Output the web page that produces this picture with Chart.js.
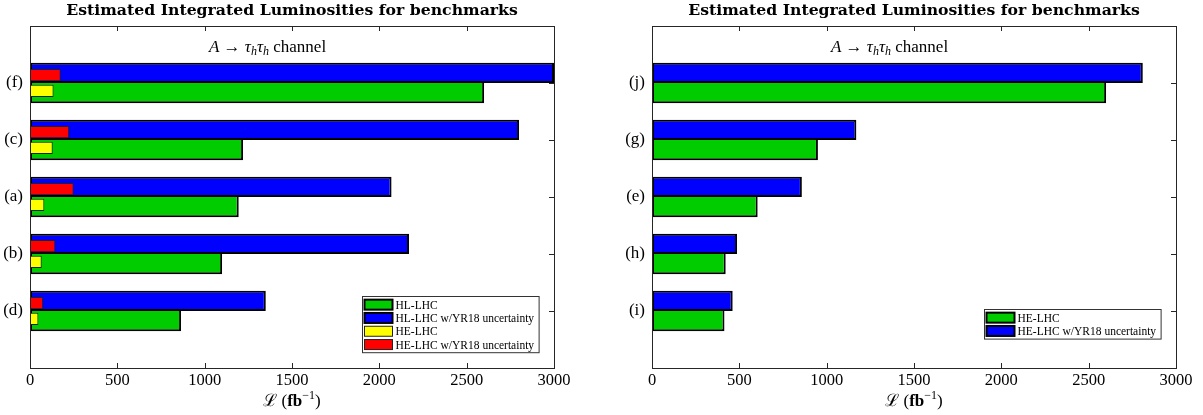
<!DOCTYPE html>
<html>
<head>
<meta charset="utf-8">
<script src="https://cdn.jsdelivr.net/npm/chart.js@4.4.1/dist/chart.umd.min.js"></script>
<style>
  html, body { margin: 0; padding: 0; background: #fff; }
  #wrap { position: relative; width: 1203px; height: 415px; }
  canvas { position: absolute; top: 0; }
  #c1 { left: 0; }
  #c2 { left: 601px; }
</style>
</head>
<body>
<div id="wrap">
  <canvas id="c1" width="601" height="415"></canvas>
  <canvas id="c2" width="602" height="415"></canvas>
</div>
<script>
  // left panel
  const leftCats = ["(f)", "(c)", "(a)", "(b)", "(d)"];
  const hlLhc = [2600, 1220, 1195, 1100, 865];
  const hlLhcYR18 = [3000, 2800, 2070, 2170, 1350];
  const heLhcL = [135, 130, 82, 67, 48];
  const heLhcYR18L = [176, 224, 250, 145, 75];
  // right panel
  const rightCats = ["(j)", "(g)", "(e)", "(h)", "(i)"];
  const heLhcR = [2600, 950, 605, 422, 415];
  const heLhcYR18R = [2810, 1170, 858, 487, 462];
  const xMax = 3000, xStep = 500;

  const GREEN = "#00cc00", BLUE = "#0000ff", YELLOW = "#ffff00", RED = "#ff0000";
  const SERIF = "'Liberation Serif', 'DejaVu Serif', serif";
  const AXIS = "#262626";

  const pts = (vals) => vals.map((v, i) => ({ x: v, y: i + 1 }));

  function drawRich(ctx, parts, cx, y) {
    let w = 0;
    parts.forEach((p) => {
      ctx.font = p.font;
      p.w = ctx.measureText(p.t).width;
      w += p.w;
    });
    let x = cx - w / 2;
    ctx.textAlign = "left";
    ctx.textBaseline = "alphabetic";
    ctx.fillStyle = "#000";
    parts.forEach((p) => {
      ctx.font = p.font;
      ctx.fillText(p.t, x, y + (p.dy || 0));
      x += p.w;
    });
  }

  const frame = {
    id: "frame",
    beforeDatasetsDraw(chart) {
      const { ctx, chartArea: a, scales } = chart;
      const tl = 5;
      ctx.save();
      ctx.strokeStyle = AXIS;
      ctx.lineWidth = 1;
      ctx.beginPath();
      scales.x.ticks.forEach((t) => {
        const px = Math.round(scales.x.getPixelForValue(t.value)) + 0.5;
        ctx.moveTo(px, a.bottom); ctx.lineTo(px, a.bottom - tl);
        ctx.moveTo(px, a.top); ctx.lineTo(px, a.top + tl);
      });
      scales.y.ticks.forEach((t) => {
        const py = Math.round(scales.y.getPixelForValue(t.value)) + 0.5;
        ctx.moveTo(a.left, py); ctx.lineTo(a.left + tl, py);
        ctx.moveTo(a.right, py); ctx.lineTo(a.right - tl, py);
      });
      ctx.stroke();
      ctx.restore();
    },
    afterDatasetsDraw(chart) {
      const { ctx, chartArea: a } = chart;
      ctx.save();
      ctx.strokeStyle = AXIS;
      ctx.lineWidth = 1;
      ctx.strokeRect(Math.round(a.left) + 0.5, Math.round(a.top) + 0.5,
        Math.round(a.right - a.left), Math.round(a.bottom - a.top));
      ctx.restore();
    },
  };

  const annot = {
    id: "annot",
    afterDraw(chart, args, o) {
      const { ctx, chartArea: a, scales } = chart;
      const cx = (a.left + a.right) / 2;
      ctx.save();
      ctx.fillStyle = "#000";
      ctx.textAlign = "center";
      ctx.textBaseline = "alphabetic";
      ctx.font = "bold 15.7px 'DejaVu Serif', serif";
      ctx.fillText("Estimated Integrated Luminosities for benchmarks", cx, 14.5);

      const it = "italic 17px " + SERIF, rm = "17px " + SERIF, sub = "italic 12px " + SERIF;
      drawRich(ctx, [
        { t: "A", font: it },
        { t: " \u2192 ", font: rm },
        { t: "\u03c4", font: it },
        { t: "h", font: sub, dy: 3 },
        { t: "\u03c4", font: it },
        { t: "h", font: sub, dy: 3 },
        { t: " channel", font: rm },
      ], scales.x.getPixelForValue(o.channelAt), 52);

      drawRich(ctx, [
        { t: "\u2112", font: "17px 'DejaVu Serif', serif" },
        { t: " (", font: rm },
        { t: "fb", font: "bold 17px " + SERIF },
        { t: "\u22121", font: "12px " + SERIF, dy: -7 },
        { t: ")", font: rm },
      ], cx, 406);

      // legend box in the lower right corner of the axes
      const items = o.items;
      ctx.font = "11.5px " + SERIF;
      const tw = Math.max(...items.map((i) => ctx.measureText(i.label).width));
      const rowH = 13.3, sw = 28, sh = 10;
      const bw = 2 + sw + 3 + tw + 5, bh = items.length * rowH + 3;
      const bx = Math.round(a.right - 15 - bw) + 0.5;
      const by = Math.round(a.bottom - o.legendBottom - bh) + 0.5;
      ctx.fillStyle = "#fff";
      ctx.fillRect(bx, by, bw, bh);
      ctx.strokeStyle = "#333";
      ctx.lineWidth = 1;
      ctx.strokeRect(bx, by, bw, bh);
      items.forEach((i, k) => {
        const cy = by + 1.5 + rowH * k + rowH / 2;
        ctx.fillStyle = i.color;
        ctx.fillRect(bx + 2, cy - sh / 2, sw, sh);
        ctx.strokeStyle = i.thick ? "#000" : "#222";
        ctx.lineWidth = i.thick ? 2 : 1;
        ctx.strokeRect(bx + 2, cy - sh / 2, sw, sh);
        ctx.fillStyle = "#000";
        ctx.textAlign = "left";
        ctx.textBaseline = "middle";
        ctx.fillText(i.label, bx + 2 + sw + 3, cy + 1);
      });
      ctx.restore();
    },
  };

  // wide bars fill their half of the group, thin ones sit on top of them
  function wideBar(label, vals, color, stack) {
    return {
      label, data: pts(vals), backgroundColor: color, borderColor: "#000",
      borderWidth: 2, borderSkipped: stack === "lower" ? "top" : false, stack,
      categoryPercentage: 0.714, barPercentage: 1, order: 1,
    };
  }
  function thinBar(label, vals, color, stack) {
    return {
      label, data: pts(vals), backgroundColor: color, borderColor: "#222",
      borderWidth: 1, borderSkipped: false, stack,
      categoryPercentage: 0.557, barPercentage: 0.775, order: 0,
    };
  }

  function makeChart(el, cats, datasets, opt) {
    return new Chart(el, {
      type: "bar",
      data: { datasets },
      options: {
        indexAxis: "y",
        responsive: false,
        animation: false,
        devicePixelRatio: 1,
        layout: { padding: { top: 26, right: opt.padRight, left: 0, bottom: 0 } },
        plugins: {
          legend: { display: false },
          tooltip: { enabled: false },
          title: { display: false },
          annot: { items: opt.items, legendBottom: opt.legendBottom, channelAt: 1360 },
        },
        scales: {
          x: {
            type: "linear", min: 0, max: xMax, stacked: false,
            ticks: { stepSize: xStep, maxRotation: 0, padding: 3, color: "#000",
              callback: (v) => String(v),
              font: { family: SERIF, size: 16.5 } },
            grid: { display: false, drawTicks: false },
            border: { display: false },
            afterFit: (s) => { s.height = 47; },
          },
          y: {
            type: "linear", min: 0, max: 6, reverse: true, offset: false, stacked: true,
            afterBuildTicks: (s) => { s.ticks = cats.map((_, i) => ({ value: i + 1 })); },
            ticks: { callback: (v) => cats[v - 1], padding: 7, color: "#000",
              font: { family: SERIF, size: 17 } },
            grid: { display: false, drawTicks: false, offset: false },
            border: { display: false },
            afterFit: (s) => { s.width = opt.left; },
          },
        },
      },
      plugins: [frame, annot],
    });
  }

  makeChart(document.getElementById("c1"), leftCats, [
    wideBar("HL-LHC w/YR18 uncertainty", hlLhcYR18, BLUE, "upper"),
    wideBar("HL-LHC", hlLhc, GREEN, "lower"),
    thinBar("HE-LHC w/YR18 uncertainty", heLhcYR18L, RED, "upper"),
    thinBar("HE-LHC", heLhcL, YELLOW, "lower"),
  ], {
    left: 30, padRight: 47, legendBottom: 16,
    items: [
      { label: "HL-LHC", color: GREEN, thick: true },
      { label: "HL-LHC w/YR18 uncertainty", color: BLUE, thick: true },
      { label: "HE-LHC", color: YELLOW, thick: false },
      { label: "HE-LHC w/YR18 uncertainty", color: RED, thick: false },
    ],
  });

  makeChart(document.getElementById("c2"), rightCats, [
    wideBar("HE-LHC w/YR18 uncertainty", heLhcYR18R, BLUE, "upper"),
    wideBar("HE-LHC", heLhcR, GREEN, "lower"),
  ], {
    left: 51, padRight: 27, legendBottom: 29,
    items: [
      { label: "HE-LHC", color: GREEN, thick: true },
      { label: "HE-LHC w/YR18 uncertainty", color: BLUE, thick: true },
    ],
  });
</script>
</body>
</html>
